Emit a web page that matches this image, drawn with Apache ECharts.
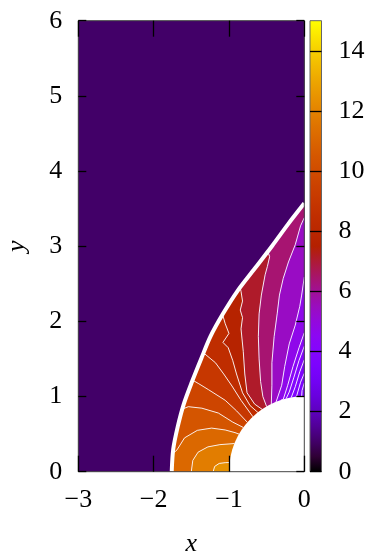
<!DOCTYPE html>
<html>
<head>
<meta charset="utf-8">
<script src="https://cdn.jsdelivr.net/npm/echarts@6/dist/echarts.min.js"></script>
<style>
html, body { margin: 0; padding: 0; background: #fff; }
#main { width: 367px; height: 553px; }
</style>
</head>
<body>
<div id="main"></div>
<script>
// value upstream of the shock
var freeStream = 1;

// bow shock, x read at each y
var shockY = [0, 0.3, 0.6, 0.9, 1.2, 1.5, 1.8, 2.1, 2.4, 2.7, 3.0, 3.3, 3.57];
var shockX = [-1.76, -1.74, -1.68, -1.60, -1.49, -1.37, -1.245, -1.08, -0.89, -0.66, -0.43, -0.21, 0];

// contour lines, each from the outer boundary (axis, shock or right edge) to the body
var c1 = [[-1.21, 0], [-1.19, 0.07], [-1.13, 0.11], [-1.05, 0.12], [-0.993, 0.122]];
var c2 = [[-1.50, 0], [-1.48, 0.15], [-1.41, 0.26], [-1.28, 0.33], [-1.12, 0.36], [-0.96, 0.372], [-0.927, 0.375]];
var c3 = [[-1.745, 0.24], [-1.69, 0.29], [-1.59, 0.45], [-1.42, 0.55], [-1.23, 0.58], [-1.05, 0.555], [-0.92, 0.52], [-0.866, 0.5]];
var c4 = [[-1.63, 0.8], [-1.60, 0.84], [-1.54, 0.865], [-1.36, 0.845], [-1.14, 0.78], [-0.95, 0.66], [-0.809, 0.588]];
var c5 = [[-1.486, 1.22], [-1.40, 1.17], [-1.27, 1.09], [-1.05, 0.95], [-0.90, 0.81], [-0.755, 0.656]];
var c6 = [[-1.337, 1.58], [-1.18, 1.45], [-1.07, 1.30], [-0.96, 1.14], [-0.84, 0.95], [-0.682, 0.731]];
var c7 = [[-1.085, 2.09], [-1.05, 1.97], [-1.00, 1.84], [-1.08, 1.72], [-1.01, 1.65], [-0.95, 1.48], [-0.90, 1.30], [-0.82, 1.05], [-0.72, 0.88], [-0.616, 0.788]];
var c8 = [[-0.852, 2.45], [-0.84, 2.40], [-0.82, 2.27], [-0.85, 2.15], [-0.82, 2.05], [-0.84, 1.90], [-0.81, 1.60], [-0.79, 1.30], [-0.76, 1.05], [-0.66, 0.90], [-0.559, 0.829]];
var c9 = [[-0.484, 2.93], [-0.46, 2.86], [-0.49, 2.73], [-0.52, 2.62], [-0.57, 2.35], [-0.60, 2.10], [-0.61, 1.80], [-0.60, 1.50], [-0.58, 1.20], [-0.55, 1.00], [-0.50, 0.866]];
var c10 = [[0, 3.38], [-0.05, 3.27], [-0.12, 3.02], [-0.21, 2.79], [-0.28, 2.57], [-0.33, 2.35], [-0.36, 2.10], [-0.40, 1.80], [-0.43, 1.45], [-0.43, 1.15], [-0.438, 0.899]];
var c11 = [[0, 2.59], [-0.035, 2.35], [-0.06, 2.2], [-0.12, 1.95], [-0.2, 1.7], [-0.26, 1.4], [-0.3, 1.15], [-0.375, 0.927]];
var f1 = [[0, 1.85], [-0.07, 1.65], [-0.15, 1.4], [-0.22, 1.15], [-0.28, 0.96], [-0.309, 0.951]];
var f2 = [[0, 1.67], [-0.07, 1.48], [-0.14, 1.25], [-0.2, 1.06], [-0.242, 0.97]];
var f3 = [[0, 1.49], [-0.06, 1.33], [-0.12, 1.13], [-0.174, 0.985]];
var f4 = [[0, 1.31], [-0.05, 1.19], [-0.105, 0.995]];
var f5 = [[0, 1.18], [-0.03, 1.08], [-0.035, 0.999]];

// value of each band between two neighbouring contours, from the stagnation point upward
var bandValues = [12.4, 11.8, 11.1, 10.4, 9.7, 9.0, 8.4, 7.7, 7.1, 6.4, 5.4, 4.7, 4.3, 4.0, 3.8, 3.6, 3.4];

// axis ticks
var xTicks = [-3, -2, -1, 0];
var yTicks = [0, 1, 2, 3, 4, 5, 6];
var cbTicks = [0, 2, 4, 6, 8, 10, 12, 14];

var contours = [c1, c2, c3, c4, c5, c6, c7, c8, c9, c10, c11, f1, f2, f3, f4, f5];
var shock = shockX.map(function (x, i) { return [x, shockY[i]]; });
var shockTop = shockY[shockY.length - 1];

// gnuplot default palette (rgbformulae 7,5,15)
function gnuplotColor(t) {
    var r = Math.sqrt(t), g = t * t * t, b = Math.max(0, Math.sin(2 * Math.PI * t));
    return 'rgb(' + Math.round(255 * r) + ',' + Math.round(255 * g) + ',' + Math.round(255 * b) + ')';
}
var palette = [];
for (var i = 0; i <= 30; i++) palette.push(gnuplotColor(i / 30));

// position of a start point along the outer boundary: axis, then shock, then right edge
function boundaryPos(p) {
    if (p[1] === 0 && p[0] > shockX[0]) return shockX[0] - p[0];
    if (p[0] === 0 && p[1] < shockTop) return shockTop + (shockTop - p[1]);
    return p[1];
}

// polygons: free stream, then the bands between contours
var polys = [];
polys.push([[-3, 0]].concat(shock, [[0, 6], [-3, 6]]));
var lines = [[[-1, 0]]].concat(contours, [[[0, 1]]]);
for (var k = 0; k < lines.length - 1; k++) {
    var a = lines[k], b = lines[k + 1];
    var pts = a.slice().concat(b.slice().reverse());
    var sa = boundaryPos(a[0]), sb = boundaryPos(b[0]);
    for (var j = shock.length - 1; j >= 0; j--) {
        if (shock[j][1] > sa && shock[j][1] < sb) pts.push(shock[j]);
    }
    polys.push(pts);
}
var fieldData = [[0, freeStream]];
bandValues.forEach(function (v, i) { fieldData.push([i + 1, v]); });

var font = 'Liberation Serif';
var myChart = echarts.init(document.getElementById('main'));

var series = [];
series.push({
    type: 'custom',
    xAxisIndex: 0, yAxisIndex: 0,
    clip: true,
    silent: true,
    z: 1,
    data: fieldData,
    renderItem: function (params, api) {
        var pts = polys[api.value(0)].map(function (p) { return api.coord(p); });
        var c = api.visual('color');
        return { type: 'polygon', shape: { points: pts }, style: { fill: c, stroke: c, lineWidth: 0.8 } };
    }
});
contours.forEach(function (c) {
    series.push({
        type: 'line', xAxisIndex: 0, yAxisIndex: 0, data: c, showSymbol: false, silent: true, z: 3,
        lineStyle: { color: '#fff', width: 1, opacity: 0.9 }
    });
});
series.push({
    type: 'line', xAxisIndex: 0, yAxisIndex: 0, data: shock, showSymbol: false, silent: true, z: 4,
    smooth: 0.3, lineStyle: { color: '#fff', width: 4 }
});
// body (unit cylinder)
series.push({
    type: 'custom', xAxisIndex: 0, yAxisIndex: 0, clip: true, silent: true, z: 5,
    data: [[0, 0]],
    renderItem: function (params, api) {
        var c = api.coord([0, 0]);
        var s = api.size([1, 1]);
        return { type: 'circle', shape: { cx: c[0], cy: c[1], r: s[0] }, style: { fill: '#fff' } };
    }
});
// colour bar
series.push({
    type: 'custom', xAxisIndex: 2, yAxisIndex: 2, silent: true, z: 1,
    data: [[0, 15]],
    renderItem: function (params, api) {
        var p0 = api.coord([0, 15]), p1 = api.coord([1, 0]);
        var stops = palette.map(function (c, i) { return { offset: i / 30, color: c }; });
        return {
            type: 'rect',
            shape: { x: p0[0], y: p0[1], width: p1[0] - p0[0], height: p1[1] - p0[1] },
            style: { fill: new echarts.graphic.LinearGradient(0, 1, 0, 0, stops) }
        };
    }
});

var labelStyle = { color: '#000', fontFamily: font, fontSize: 26 };
function minus(v) { return String(v).replace('-', '\u2212'); }
var tickStyle = { color: '#000', width: 1.3 };
var noLine = { show: false, onZero: false };

option = {
    animation: false,
    grid: [
        { left: 78.3, top: 20.7, width: 226, height: 451, outerBoundsMode: 'none', containLabel: false, show: true, borderColor: '#444', borderWidth: 1, backgroundColor: 'transparent', z: 6 },
        { left: 310, top: 20.7, width: 11.5, height: 451, outerBoundsMode: 'none', containLabel: false, show: true, borderColor: '#666', borderWidth: 1, backgroundColor: 'transparent', z: 6 }
    ],
    visualMap: {
        show: false, type: 'continuous', min: 0, max: 15, dimension: 1, seriesIndex: 0,
        inRange: { color: palette }
    },
    xAxis: [
        {
            gridIndex: 0, type: 'value', min: xTicks[0], max: xTicks[xTicks.length - 1], interval: 1, position: 'bottom', zlevel: 1, z: 10,
            axisLine: noLine, splitLine: { show: false },
            axisTick: { show: true, inside: true, length: 16, lineStyle: tickStyle },
            axisLabel: Object.assign({ margin: 15, formatter: minus }, labelStyle),
            name: 'x', nameLocation: 'middle', nameGap: 59,
            nameTextStyle: { color: '#000', fontFamily: font, fontSize: 26, fontStyle: 'italic' }
        },
        {
            gridIndex: 0, type: 'value', min: xTicks[0], max: xTicks[xTicks.length - 1], interval: 1, position: 'top', zlevel: 1, z: 10,
            axisLine: noLine, splitLine: { show: false }, axisLabel: { show: false },
            axisTick: { show: true, inside: true, length: 16, lineStyle: tickStyle }
        },
        { gridIndex: 1, type: 'value', min: 0, max: 1, show: false, axisLine: noLine }
    ],
    yAxis: [
        {
            gridIndex: 0, type: 'value', min: yTicks[0], max: yTicks[yTicks.length - 1], interval: 1, position: 'left', zlevel: 1, z: 10,
            axisLine: noLine, splitLine: { show: false },
            axisTick: { show: true, inside: true, length: 8, lineStyle: tickStyle },
            axisLabel: Object.assign({ margin: 16 }, labelStyle),
            name: 'y', nameLocation: 'middle', nameGap: 48, nameRotate: 90,
            nameTextStyle: { color: '#000', fontFamily: font, fontSize: 26, fontStyle: 'italic' }
        },
        {
            gridIndex: 0, type: 'value', min: yTicks[0], max: yTicks[yTicks.length - 1], interval: 1, position: 'right', zlevel: 1, z: 10,
            axisLine: noLine, splitLine: { show: false }, axisLabel: { show: false },
            axisTick: { show: true, inside: true, length: 8, lineStyle: tickStyle }
        },
        {
            gridIndex: 1, type: 'value', min: cbTicks[0], max: 15, interval: 2, position: 'right', zlevel: 1, z: 10,
            axisLine: noLine, splitLine: { show: false },
            axisTick: { show: true, inside: true, length: 11.5, lineStyle: tickStyle },
            axisLabel: Object.assign({ margin: 17, showMaxLabel: false }, labelStyle)
        }
    ],
    series: series
};

myChart.setOption(option);
</script>
</body>
</html>
